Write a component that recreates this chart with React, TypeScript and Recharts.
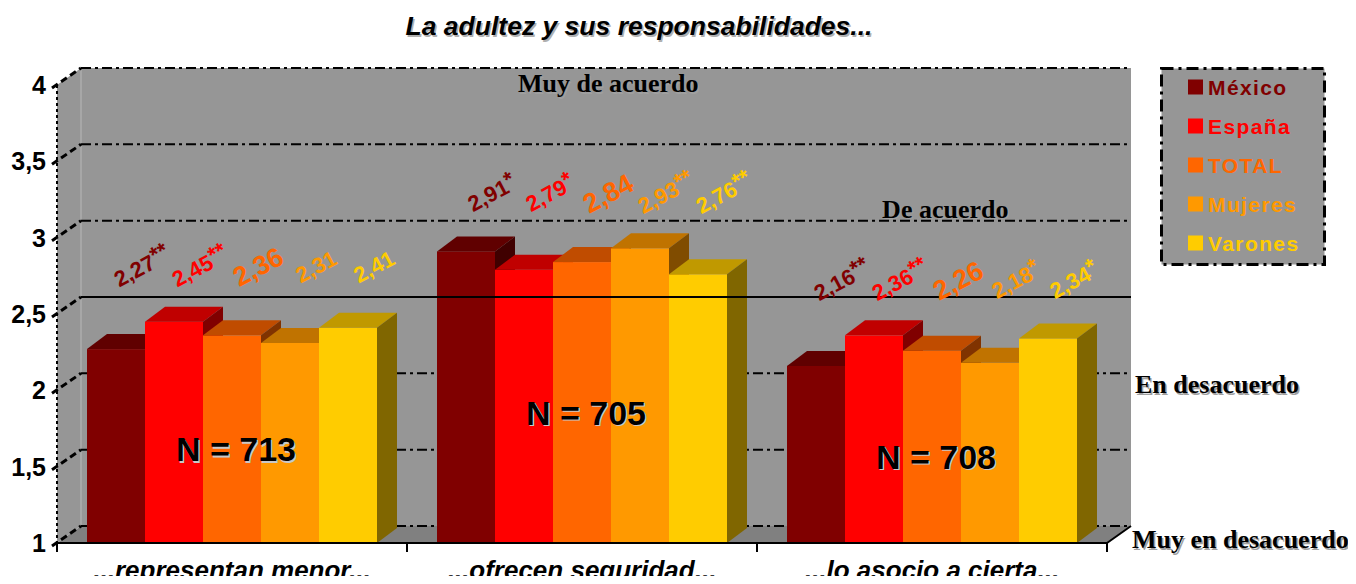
import { BarChart, Bar, XAxis, YAxis, CartesianGrid, ReferenceLine, ReferenceArea, Legend, LabelList } from 'recharts';

// categorías y series (medias en escala 1-4)
const categories = ['...representan menor...', '...ofrecen seguridad...', '...lo asocio a cierta...'];
const mexico = [2.27, 2.91, 2.16];
const espana = [2.45, 2.79, 2.36];
const total = [2.36, 2.84, 2.26];
const mujeres = [2.31, 2.93, 2.18];
const varones = [2.41, 2.76, 2.34];

// marcas de significación
const mexicoSig = ['**', '*', '**'];
const espanaSig = ['**', '*', '**'];
const totalSig = ['', '', ''];
const mujeresSig = ['', '**', '*'];
const varonesSig = ['', '**', '*'];

const sampleSizes = [713, 705, 708];
const yTicks = [1, 1.5, 2, 2.5, 3, 3.5, 4];
const scaleLevels = [4, 3, 2, 1];
const scaleNames = ['Muy de acuerdo', 'De acuerdo', 'En desacuerdo', 'Muy en desacuerdo'];
const midPoint = 2.5;

const FONT = 'Arial, "Liberation Sans", Helvetica, sans-serif';
const SERIF = '"Times New Roman", "Liberation Serif", serif';

// desplazamiento 3D del fondo y de las barras
const DX = 24, DY = -17;
const BDX = 20, BDY = -15;

const series = [
  { key: 'mexico', name: 'México', color: '#800000', top: '#600000', side: '#400000', values: mexico, sig: mexicoSig, big: false },
  { key: 'espana', name: 'España', color: '#FF0000', top: '#C00000', side: '#800000', values: espana, sig: espanaSig, big: false },
  { key: 'total', name: 'TOTAL', color: '#FF6600', top: '#C04C00', side: '#803300', values: total, sig: totalSig, big: true },
  { key: 'mujeres', name: 'Mujeres', color: '#FF9900', top: '#C07300', side: '#804C00', values: mujeres, sig: mujeresSig, big: false },
  { key: 'varones', name: 'Varones', color: '#FFCC00', top: '#C09900', side: '#806600', values: varones, sig: varonesSig, big: false },
];

const data = categories.map((name, i) => ({
  name,
  mexico: mexico[i],
  espana: espana[i],
  total: total[i],
  mujeres: mujeres[i],
  varones: varones[i],
}));

const groupMax = categories.map((_, i) => Math.max(...series.map((s) => s.values[i])));
const fmt = (v: number) => v.toFixed(2).replace('.', ',');

function Box3D(props: any) {
  const { x, y, width, height, fill, top, side } = props;
  const y0 = Math.min(y, y + height);
  const h = Math.abs(height);
  const x1 = x + width;
  return (
    <g>
      <rect x={x} y={y0} width={width} height={h} fill={fill} />
      <polygon points={`${x},${y0} ${x + BDX},${y0 + BDY} ${x1 + BDX},${y0 + BDY} ${x1},${y0}`} fill={top} />
      <polygon points={`${x1},${y0} ${x1 + BDX},${y0 + BDY} ${x1 + BDX},${y0 + h + BDY} ${x1},${y0 + h}`} fill={side} />
    </g>
  );
}

function Room(p: any) {
  const { x, y, width: w, height: h } = p;
  const b = y + h;
  const n = categories.length;
  return (
    <g>
      <polygon points={`${x},${y} ${x + DX},${y + DY} ${x + DX},${b + DY} ${x},${b}`} fill="#969696" />
      <rect x={x + DX} y={y + DY} width={w} height={h} fill="#969696" />
      <polygon points={`${x},${b} ${x + w},${b} ${x + w + DX},${b + DY} ${x + DX},${b + DY}`} fill="#808080" />
      <line x1={x + DX} y1={y + DY} x2={x + DX} y2={b + DY} stroke="#b8b8b8" />
      <line x1={x + w} y1={b} x2={x + w + DX} y2={b + DY} stroke="#000" strokeWidth={2} />
      {Array.from({ length: n + 1 }, (_, i) => (
        <line key={i} x1={x + (i * w) / n} x2={x + (i * w) / n} y1={b} y2={b + 9} stroke="#000" strokeWidth={2} />
      ))}
    </g>
  );
}

const backGridLine = (p: any) => (
  <line
    key={`g-${p.index}`}
    x1={p.x1 + DX}
    x2={p.x2 + DX}
    y1={p.y1 + DY}
    y2={p.y2 + DY}
    stroke="#000"
    strokeWidth={2}
    strokeDasharray="10 4 3 4"
  />
);

function YTick(p: any) {
  const { x, y, payload } = p;
  const label = String(payload.value).replace('.', ',');
  return (
    <g>
      <line x1={x - 5} y1={y + 3} x2={x + DX} y2={y + DY} stroke="#000" strokeWidth={3} strokeDasharray="7 4" />
      <text x={x - 11} y={y + 9} textAnchor="end" fontFamily={FONT} fontWeight="bold" fontSize={25} fill="#000">
        {label}
      </text>
    </g>
  );
}

function XTick(p: any) {
  return (
    <text x={p.x} y={p.y + 36} textAnchor="middle" fontFamily={FONT} fontStyle="italic" fontWeight="bold" fontSize={26} fill="#000">
      {p.payload.value}
    </text>
  );
}

function barBox(props: any) {
  const vb = props.viewBox ?? props;
  const { x, y, width, height } = vb;
  return { x, width, top: Math.min(y, y + height), bottom: Math.max(y, y + height) };
}

const valueLabel = (s: (typeof series)[number]) => (props: any) => {
  const { x, width, top, bottom } = barBox(props);
  const idx = props.index ?? s.values.indexOf(Number(props.value));
  const v = s.values[idx];
  const unit = (bottom - top) / (v - 1);
  const yMax = bottom - (groupMax[idx] - 1) * unit;
  const cx = x + width / 2 + 26;
  const cy = yMax - 55;
  const fs = s.big ? 27 : 22;
  return (
    <text
      x={cx}
      y={cy + fs * 0.35}
      transform={`rotate(-28 ${cx} ${cy})`}
      textAnchor="middle"
      fill={s.color}
      fontFamily={FONT}
      fontWeight="bold"
      fontSize={fs}
    >
      {fmt(v)}
      {s.sig[idx] ? (
        <tspan fontSize={22} dy={-fs * 0.22}>
          {s.sig[idx]}
        </tspan>
      ) : null}
    </text>
  );
};

// la N se dibuja desde la última serie para que quede por encima de todas las barras
const sampleLabel = (props: any) => {
  const { x, width, top, bottom } = barBox(props);
  const idx = props.index ?? varones.indexOf(Number(props.value));
  const unit = (bottom - top) / (varones[idx] - 1);
  const tTop = bottom - (total[idx] - 1) * unit;
  const tx = x - 2 * width + width / 2 + 4;
  const ty = (tTop + bottom) / 2 + 22;
  const txt = `N = ${sampleSizes[idx]}`;
  return (
    <g>
      <text x={tx + 1.5} y={ty + 1.5} textAnchor="middle" fontFamily={FONT} fontWeight="bold" fontSize={34} fill="#c8c8c8">
        {txt}
      </text>
      <text x={tx} y={ty} textAnchor="middle" fontFamily={FONT} fontWeight="bold" fontSize={34} fill="#000">
        {txt}
      </text>
    </g>
  );
};

const zoneText = (level: number, name: string) => (p: any) => {
  const { x1, x2, y1 } = p;
  let x = x2 + 28;
  let y = y1 + 3;
  let anchor = 'start';
  if (level === 4) {
    x = x1 + 0.525 * (x2 - x1);
    y = y1 + 7;
    anchor = 'middle';
  } else if (level === 3) {
    x = x1 + 0.846 * (x2 - x1);
    y = y1 - 20;
    anchor = 'middle';
  } else if (level === 1) {
    x = x2 + 25;
    y = y1 + 5;
  }
  return (
    <g>
      <text x={x + 1.5} y={y + 1.5} textAnchor={anchor} fontFamily={SERIF} fontWeight="bold" fontSize={26} fill="#a0a0a0">
        {name}
      </text>
      <text x={x} y={y} textAnchor={anchor} fontFamily={SERIF} fontWeight="bold" fontSize={26} fill="#000">
        {name}
      </text>
    </g>
  );
};

const midLine = (p: any) => (
  <line x1={p.x1 + DX} x2={p.x2 + DX} y1={p.y1 + DY} y2={p.y2 + DY} stroke="#000" strokeWidth={2} />
);

// leyenda en el orden de las series (no alfabético)
function LegendBox() {
  return (
    <svg width={166} height={199} style={{ display: 'block' }}>
      <rect x={1.5} y={1.5} width={163} height={196} fill="#969696" stroke="#000" strokeWidth={3} strokeDasharray="12 5 3 5" />
      {series.map((s, i) => (
        <g key={s.key}>
          <rect x={28} y={20 + i * 39 - 7.5} width={15} height={15} fill={s.color} />
          <text x={48} y={20 + i * 39 + 7.5} fill={s.color} fontFamily={FONT} fontWeight="bold" fontSize={21} letterSpacing={1.4}>
            {s.name}
          </text>
        </g>
      ))}
    </svg>
  );
}

export default function App() {
  return (
    <div style={{ position: 'relative', width: 1356, height: 584, margin: -8, background: '#fff', fontFamily: FONT }}>
      <svg width={1356} height={50} style={{ position: 'absolute', left: 0, top: 0 }}>
        <text x={640.5} y={36.5} textAnchor="middle" fontFamily={FONT} fontStyle="italic" fontWeight="bold" fontSize={26.5} fill="#b0b0b0">
          La adultez y sus responsabilidades...
        </text>
        <text x={639} y={35} textAnchor="middle" fontFamily={FONT} fontStyle="italic" fontWeight="bold" fontSize={26.5} fill="#000">
          La adultez y sus responsabilidades...
        </text>
      </svg>
      <BarChart
        width={1356}
        height={584}
        data={data}
        margin={{ top: 85, right: 249, bottom: 0, left: 0 }}
        barCategoryGap={30}
        barGap={0}
      >
        <ReferenceArea y1={1} y2={4} ifOverflow="visible" shape={Room} zIndex={-200} />
        <CartesianGrid vertical={false} horizontal={backGridLine} />
        <XAxis
          dataKey="name"
          height={41}
          interval={0}
          tickLine={false}
          tickSize={0}
          tickMargin={0}
          axisLine={{ stroke: '#000', strokeWidth: 2 }}
          tick={<XTick />}
        />
        <YAxis
          type="number"
          domain={[1, 4]}
          ticks={yTicks}
          width={57}
          tickLine={false}
          tickSize={0}
          tickMargin={0}
          axisLine={{ stroke: '#000', strokeWidth: 2, strokeDasharray: '3 3' }}
          tick={<YTick />}
        />
        {series.map((s) => (
          <Bar
            key={s.key}
            dataKey={s.key}
            name={s.name}
            fill={s.color}
            isAnimationActive={false}
            shape={(p: any) => <Box3D {...p} top={s.top} side={s.side} />}
          >
            <LabelList dataKey={s.key} content={valueLabel(s)} />
            {s.key === 'varones' ? <LabelList dataKey={s.key} content={sampleLabel} /> : null}
          </Bar>
        ))}
        <ReferenceLine y={midPoint} ifOverflow="visible" shape={midLine} zIndex={450} />
        {scaleLevels.map((lv, i) => (
          <ReferenceLine key={lv} y={lv} ifOverflow="visible" shape={zoneText(lv, scaleNames[i])} zIndex={450} />
        ))}
        <Legend
          layout="vertical"
          align="center"
          verticalAlign="middle"
          content={<LegendBox />}
          wrapperStyle={{ left: 1160, top: 67, width: 166, height: 199 }}
        />
      </BarChart>
    </div>
  );
}
